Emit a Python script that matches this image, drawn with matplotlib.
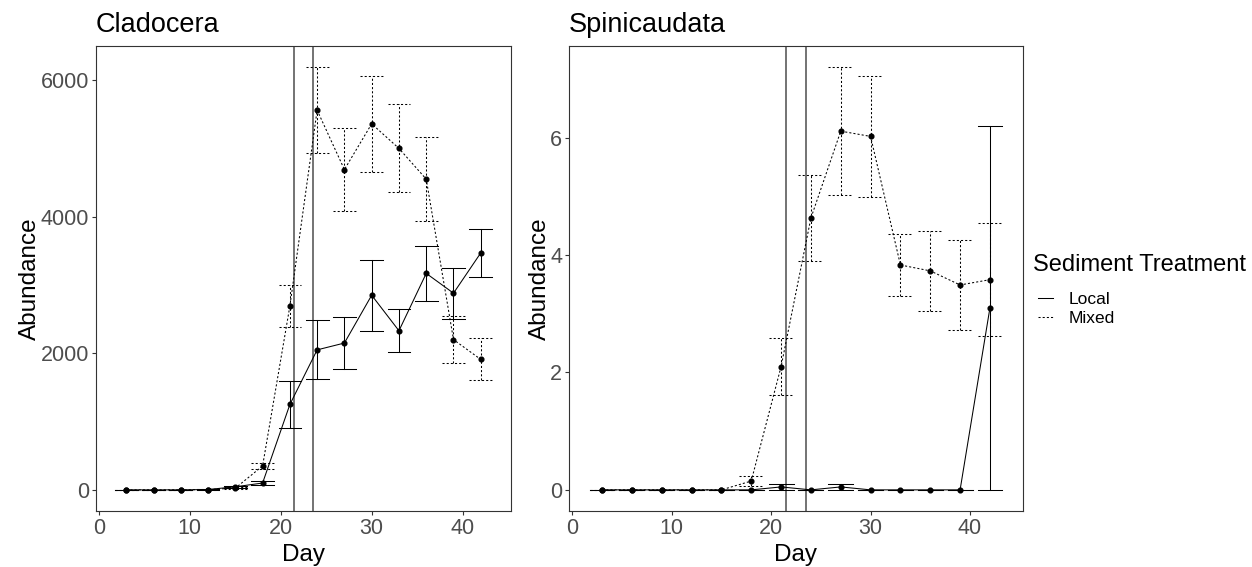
import matplotlib
matplotlib.use("Agg")
import matplotlib.pyplot as plt
from matplotlib.lines import Line2D
import numpy as np

plt.rcParams['font.family'] = ['Liberation Sans', 'DejaVu Sans']

# Sampling days
days = [3, 6, 9, 12, 15, 18, 21, 24, 27, 30, 33, 36, 39, 42]

# Cladocera abundance (mean and standard error)
clad_local_mean = [0, 0, 0, 5, 45, 100, 1250, 2050, 2150, 2850, 2330, 3170, 2880, 3470]
clad_local_se = [0, 0, 0, 3, 15, 35, 350, 430, 375, 520, 316, 400, 375, 348]
clad_mixed_mean = [0, 0, 0, 5, 25, 350, 2690, 5560, 4690, 5360, 5000, 4550, 2200, 1910]
clad_mixed_se = [0, 0, 0, 3, 10, 40, 310, 630, 610, 700, 645, 620, 343, 307]

# Spinicaudata abundance (mean and standard error)
spin_local_mean = [0, 0, 0, 0, 0, 0, 0.05, 0, 0.05, 0, 0, 0, 0, 3.1]
spin_local_se = [0, 0, 0, 0, 0, 0, 0.05, 0, 0.05, 0, 0, 0, 0, 3.1]
spin_mixed_mean = [0, 0, 0, 0, 0, 0.15, 2.1, 4.63, 6.11, 6.02, 3.83, 3.73, 3.49, 3.58]
spin_mixed_se = [0, 0, 0, 0, 0, 0.08, 0.48, 0.735, 1.09, 1.03, 0.52, 0.685, 0.76, 0.96]

# Sediment addition days
event_days = [21.5, 23.5]

treatments = ["Local", "Mixed"]
linestyles = {"Local": "-", "Mixed": (0, (2, 2))}

panel_titles = ["Cladocera", "Spinicaudata"]
y_ticks = [[0, 2000, 4000, 6000], [0, 2, 4, 6]]
x_ticks = [0, 10, 20, 30, 40]

W, H = 1252, 567
fig = plt.figure(figsize=(W / 100, H / 100), dpi=100)
ax1 = fig.add_axes([96 / W, 1 - 511 / H, (511 - 96) / W, (511 - 46) / H])
ax2 = fig.add_axes([569 / W, 1 - 511 / H, (1023 - 569) / W, (511 - 46) / H])

panels = [
    (ax1, {"Local": (clad_local_mean, clad_local_se), "Mixed": (clad_mixed_mean, clad_mixed_se)}),
    (ax2, {"Local": (spin_local_mean, spin_local_se), "Mixed": (spin_mixed_mean, spin_mixed_se)}),
]

cap_w = 2.5
x = np.array(days, dtype=float)

for i, (ax, series) in enumerate(panels):
    lows, highs = [], []
    for t in treatments:
        m = np.array(series[t][0], dtype=float)
        s = np.array(series[t][1], dtype=float)
        ls = linestyles[t]
        lw = 0.75
        ax.plot(x, m, color="black", linestyle=ls, lw=lw, zorder=3)
        # error bars: vertical stem plus caps
        for xi, lo, hi in zip(x, m - s, m + s):
            ax.plot([xi, xi], [lo, hi], color="black", linestyle=ls, lw=lw, zorder=3)
            ax.plot([xi - cap_w / 2, xi + cap_w / 2], [lo, lo], color="black", linestyle=ls, lw=lw, zorder=3)
            ax.plot([xi - cap_w / 2, xi + cap_w / 2], [hi, hi], color="black", linestyle=ls, lw=lw, zorder=3)
        ax.plot(x, m, linestyle="none", marker="o", markersize=3.4, color="black", zorder=4)
        lows.append((m - s).min())
        highs.append((m + s).max())
    for d in event_days:
        ax.axvline(d, color="#4d4d4d", lw=1.1, zorder=2)

    lo, hi = min(lows), max(highs)
    pad = 0.05 * (hi - lo)
    ax.set_ylim(lo - pad, hi + pad)
    xlo, xhi = x.min() - cap_w / 2, x.max() + cap_w / 2
    xpad = 0.05 * (xhi - xlo)
    ax.set_xlim(xlo - xpad, xhi + xpad)

    ax.set_xticks(x_ticks)
    ax.set_yticks(y_ticks[i])
    ax.tick_params(axis="both", which="major", length=3, width=0.8, color="#333333",
                   labelcolor="#4D4D4D", labelsize=15.5, pad=2)
    for sp in ax.spines.values():
        sp.set_color("#333333")
        sp.set_linewidth(0.8)
    ax.set_xlabel("Day", fontsize=17.5, labelpad=3.5)
    ax.set_ylabel("Abundance", fontsize=17.5, labelpad=-0.5)
    ax.set_title(panel_titles[i], loc="left", fontsize=19.5, pad=10)

# Legend: title drawn as text, entries below it
fig.text(1033 / W, 1 - 265 / H, "Sediment Treatment", fontsize=17, ha="left", va="center")
handles = [Line2D([0], [0], color="black", lw=0.75, linestyle=linestyles[t]) for t in treatments]
fig.legend(handles, treatments, loc="upper left",
           bbox_to_anchor=(1022 / W, 1 - 276 / H), frameon=False,
           fontsize=12.5, handlelength=0.9, handletextpad=0.9,
           labelspacing=0.25)

fig.savefig("out.png", dpi=100, facecolor="white")
